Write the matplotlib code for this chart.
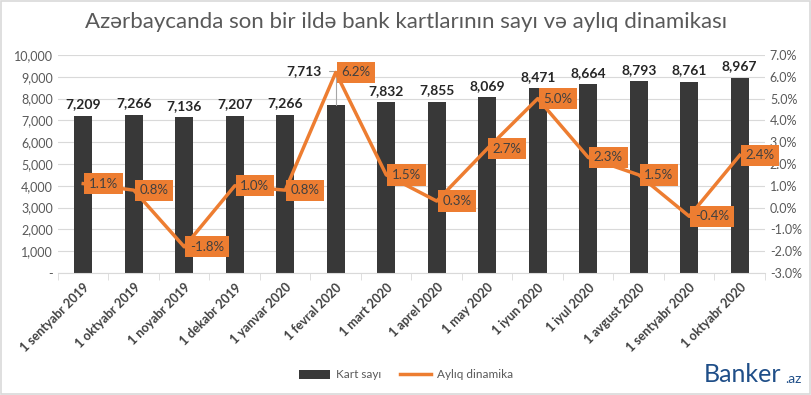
import matplotlib
matplotlib.use("Agg")
import matplotlib.pyplot as plt
import numpy as np

plt.rcParams['font.family'] = ['Lato', 'DejaVu Sans']

# data
dates = ["1 sentyabr 2019", "1 oktyabr 2019", "1 noyabr 2019", "1 dekabr 2019",
         "1 yanvar 2020", "1 fevral 2020", "1 mart 2020", "1 aprel 2020",
         "1 may 2020", "1 iyun 2020", "1 iyul 2020", "1 avgust 2020",
         "1 sentyabr 2020", "1 oktyabr 2020"]
cards = [7209, 7266, 7136, 7207, 7266, 7713, 7832, 7855, 8069, 8471, 8664, 8793, 8761, 8967]
monthly = [1.1, 0.8, -1.8, 1.0, 0.8, 6.2, 1.5, 0.3, 2.7, 5.0, 2.3, 1.5, -0.4, 2.4]

bar_col = "#383838"
line_col = "#ED7D31"
txt_col = "#595959"

fig = plt.figure(figsize=(8.12, 3.95), dpi=100)
ax = fig.add_axes([58/812, 1-273/395, 707/812, 218/395])
ax2 = ax.twinx()

x = np.arange(len(dates))
ax.bar(x, cards, width=0.36, color=bar_col, zorder=2, label="Kart sayı")
ax.set_xlim(-0.5, len(dates)-0.5)
ax.set_ylim(0, 10000)
ax.set_yticks(range(0, 10001, 1000))
ax.set_yticklabels(["-"] + [f"{v:,}" for v in range(1000, 10001, 1000)])
ax.grid(axis="y", color="#d9d9d9", lw=0.8, zorder=0)
ax.set_axisbelow(True)

for i, v in enumerate(cards):
    if i == 5:
        # label pulled out with a leader line, as in the original
        ax.annotate(f"{v:,}", xy=(i, v), xytext=(i - 0.28, 9250), textcoords="data",
                    ha="right", va="center", fontsize=10, color="#262626", fontweight="bold",
                    arrowprops=dict(arrowstyle="-", color="#a6a6a6", lw=0.8, shrinkA=3, shrinkB=0,
                                    connectionstyle="angle,angleA=0,angleB=90,rad=0"))
    else:
        ax.text(i, v + 250, f"{v:,}", ha="center", va="bottom", fontsize=10,
                color="#262626", fontweight="bold")

ax2.plot(x, monthly, color=line_col, lw=2.5, zorder=3, label="Aylıq dinamika")
ax2.set_ylim(-3, 7)
ax2.set_yticks(range(-3, 8))
ax2.set_yticklabels([f"{v:.1f}%" for v in range(-3, 8)])

for i, v in enumerate(monthly):
    ax2.annotate(f"{v:.1f}%", xy=(i, v), xytext=(4, 0), textcoords="offset points",
                 ha="left", va="center", fontsize=9.5, color="#404040",
                 bbox=dict(boxstyle="square,pad=0.35", fc=line_col, ec="none"), zorder=4)

for a in (ax, ax2):
    for s in a.spines.values():
        s.set_visible(False)
    a.tick_params(axis="y", length=0, labelsize=9, labelcolor=txt_col)
ax.spines["bottom"].set_visible(True)
ax.spines["bottom"].set_color("#d9d9d9")
ax.set_xticks(x)
ax.set_xticklabels(dates, rotation=45, ha="right", rotation_mode="anchor",
                   fontsize=9, color="#404040", fontweight="bold")
ax.tick_params(axis="x", length=0, pad=6)
ax.set_xticks(np.arange(-0.5, len(dates), 1), minor=True)
ax.tick_params(axis="x", which="minor", length=5, color="#d9d9d9")

fig.text(0.5, 1-22/395, "Azərbaycanda son bir ildə bank kartlarının sayı və aylıq dinamikası",
         ha="center", va="center", fontsize=16, color=txt_col)

h1, l1 = ax.get_legend_handles_labels()
h2, l2 = ax2.get_legend_handles_labels()
fig.legend(h1 + h2, l1 + l2, loc="center", bbox_to_anchor=(0.5, 1-375/395), ncol=2,
           frameon=False, fontsize=8.5, labelcolor=txt_col, handlelength=2.6,
           handletextpad=0.5, columnspacing=1.6)

fig.text(704/812, 1-374/395, "Banker", ha="left", va="center", fontsize=18, color="#1f4e88")
fig.text(785/812, 1-379/395, ".az", ha="left", va="center", fontsize=10, color="#1f4e88")

fig.patches.append(plt.Rectangle((0.001, 0.002), 0.997, 0.996, transform=fig.transFigure,
                                 fill=False, ec="#d9d9d9", lw=1.2))

fig.savefig("out.png", dpi=100)
